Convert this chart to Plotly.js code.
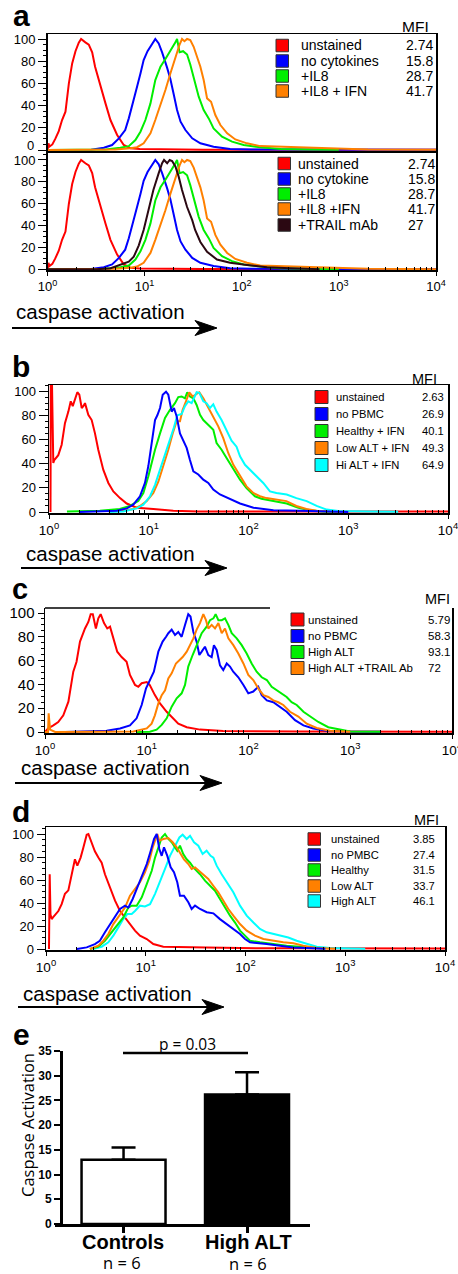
<!DOCTYPE html>
<html><head><meta charset="utf-8">
<script src="https://cdn.plot.ly/plotly-3.0.1.min.js"></script>
<style>html,body{margin:0;padding:0;background:#fff}#chart{width:458px;height:1274px}</style>
</head><body><div id="chart"></div>
<script>
// ---------- DATA (x = log10 of caspase fluorescence, y = % of max) ----------
// Panel a (same samples in top and bottom plots)
const aUnstX = [0,0.01,0.02,0.05,0.08,0.116,0.15,0.185,0.22,0.254,0.288,0.322,0.346,0.37,0.39,0.425,0.46,0.49,0.545,0.597,0.648,0.717,0.785,0.854,0.95,1.2,1.6,2.2,3.0,4.0];
const aUnstY = [0,6,3,5,10,17,27,34.5,60,78,89,96.7,100,98,97,95,88,75,57,42,27,13.5,4.5,1.5,0.8,0.5,0.3,0.3,0.2,0.2];
const aNoCytX = [0,0.45,0.58,0.665,0.735,0.80,0.837,0.871,0.922,0.957,0.99,1.03,1.077,1.11,1.145,1.18,1.232,1.265,1.30,1.334,1.37,1.42,1.49,1.574,1.71,1.88,2.1,2.5,3.0,4.0];
const aNoCytY = [0,0.3,2,4.5,10.5,18,28.5,39,57,69,81,89,95,100,96,88,74,64,50,36,25.5,18,10.5,6,3,1,0.5,0.3,0.2,0.2];
const aIL8X = [0,0.6,0.75,0.837,0.905,0.957,1.008,1.06,1.11,1.163,1.214,1.265,1.317,1.334,1.36,1.396,1.437,1.47,1.51,1.557,1.608,1.66,1.71,1.797,1.9,2.02,2.19,2.4,2.7,3.0];
const aIL8Y = [0,0.5,2,3.5,9,16.5,27,42,63,75,82,89,97,100,88,89,86,77,63,48,36,28.5,19.5,12,7.5,4.5,2.5,1,0.5,0.2];
const aIL8IFNX = [0,0.7,0.854,0.922,0.99,1.06,1.11,1.163,1.214,1.265,1.317,1.36,1.385,1.41,1.437,1.47,1.505,1.54,1.574,1.608,1.643,1.684,1.728,1.78,1.85,1.934,2.054,2.19,2.4,2.6,3.0,3.3,4.0];
const aIL8IFNY = [0,0.5,1.5,2.5,6,15,27,40.5,54,69,84,95,100,98,100,99,93,84,75,63,46.5,43.5,31.5,22.5,15,9.5,6,3.5,3,2.5,1.5,0.5,0.2];
const aTrailX = [0,0.5,0.65,0.75,0.837,0.888,0.94,0.99,1.04,1.09,1.145,1.18,1.2,1.232,1.258,1.283,1.317,1.35,1.385,1.437,1.49,1.52,1.574,1.643,1.745,1.88,2.054,2.26,2.5,2.8];
const aTrailY = [0,0,1,4,7,11.5,22,36,54,72.5,88,97,100,97,100,99,94,85,72.5,57,45,36,25,16,9,6,4,2,1,0.2];
const aTopNames = ['unstained','no cytokines','+IL8','+IL8 + IFN'];
const aTopMFI = ['2.74','15.8','28.7','41.7'];
const aBotNames = ['unstained','no cytokine','+IL8','+IL8 +IFN','+TRAIL mAb'];
const aBotMFI = ['2.74','15.8','28.7','41.7','27'];

// Panel b
const bUnstX = [0.015,0.018,0.03,0.043,0.053,0.093,0.127,0.16,0.194,0.218,0.238,0.26,0.284,0.304,0.328,0.344,0.361,0.394,0.428,0.461,0.494,0.544,0.595,0.645,0.712,0.779,0.879,1.046,1.246,1.5,2.5,4.0];
const bUnstY = [0,106,106,40.5,43,47,55.6,73.5,83,91.5,87.5,94,99,97,86,87.5,90,80.4,76,65,51.5,35,24,17,11.5,7,3.5,2.5,1,0.5,0.4,0.4];
const bNoPBMCX = [0.3,0.44,0.68,0.78,0.845,0.912,0.962,0.996,1.03,1.063,1.086,1.113,1.14,1.173,1.196,1.23,1.253,1.28,1.313,1.346,1.38,1.413,1.447,1.497,1.547,1.597,1.647,1.714,1.797,1.915,2.05,2.25,2.52,3.0];
const bNoPBMCY = [0,0.5,1,3,6,13,24,38,57,76,80,86,97,99.5,97,83,86,79,65,59,53,43,33.6,31,26.7,24,18.5,14.5,11.5,7,3.5,1.5,1,0];
const bHealthyX = [0.18,0.51,0.71,0.81,0.895,0.946,0.996,1.03,1.063,1.113,1.163,1.213,1.263,1.296,1.33,1.363,1.386,1.413,1.447,1.48,1.514,1.547,1.597,1.647,1.68,1.73,1.78,1.848,1.915,1.98,2.065,2.13,2.25,2.383,2.5,2.616,2.75,2.9];
const bHealthyY = [0.5,1,2.5,5,9,15.7,29.5,42,51.5,65,77.7,84.5,90,95,95.5,94,99,95.5,94,88.5,80.4,76,72,68,57,51.5,44.6,35,26.7,19.8,13,11,9,7,3.5,1.5,0.5,0];
const bLowX = [0.6,0.745,0.845,0.912,0.98,1.046,1.096,1.146,1.196,1.24,1.28,1.313,1.34,1.38,1.406,1.44,1.474,1.507,1.547,1.597,1.647,1.697,1.747,1.797,1.848,1.915,1.98,2.048,2.115,2.18,2.28,2.38,2.48,2.58,2.68,2.9];
const bLowY = [0,1,2.5,5,9,15.7,25,38,51.5,65,75,75,84.5,93,99,95.5,97,99,94,86,79,70.8,61,48.8,39,29.5,21.2,15.7,13,11.5,10,9,5,2.5,1,0.3];
const bHiX = [0.6,0.745,0.879,0.946,1.013,1.063,1.113,1.163,1.213,1.253,1.286,1.33,1.363,1.396,1.43,1.48,1.507,1.547,1.58,1.614,1.647,1.68,1.73,1.78,1.83,1.88,1.915,1.965,2.015,2.08,2.148,2.215,2.28,2.383,2.48,2.583,2.683,2.784,2.9,3.2,3.5];
const bHiY = [0,0.5,3,6,13,22.5,35,47,59,70,80,81,87.5,91.5,90,99,98.5,91.5,90,86,89,83,76,68,59,54,46,39,35,29.5,24,17,15.7,14.5,11.5,9,5,2,0.8,0.4,0.2];
const bNames = ['unstained','no PBMC','Healthy + IFN','Low ALT + IFN','Hi ALT + IFN'];
const bMFI = ['2.63','26.9','40.1','49.3','64.9'];

// Panel c
const cUnstX = [0,0.03,0.082,0.13,0.18,0.23,0.278,0.31,0.344,0.393,0.426,0.449,0.47,0.5,0.524,0.547,0.58,0.612,0.639,0.672,0.71,0.753,0.802,0.835,0.885,0.917,0.95,1.0,1.03,1.08,1.13,1.196,1.26,1.31,1.393,1.523,1.75,2.5,4.0];
const cUnstY = [0,3,5.6,8.4,14,25.5,50.7,59,76,87,92.5,99,99,87,95.5,99,91.5,87,88.5,78.7,67.5,63,59,48,39.5,38,41,42,39.5,31,24,17,11,7,4,2,0.8,0.4,0.3];
const cNoPBMCX = [0.2,0.41,0.606,0.737,0.835,0.9,0.95,0.993,1.032,1.07,1.114,1.156,1.19,1.212,1.245,1.278,1.31,1.343,1.376,1.408,1.43,1.458,1.49,1.517,1.54,1.572,1.605,1.638,1.66,1.687,1.72,1.752,1.786,1.818,1.85,1.9,1.95,1.998,2.047,2.096,2.13,2.18,2.244,2.31,2.375,2.457,2.54,2.637,2.768,3.0,3.3];
const cNoPBMCY = [0,0.3,1,3,5.6,11.5,22.7,36.7,43.7,50.7,67.5,76,80,83,86,81.5,84,80,90,99,97,84,76,64.7,67.5,71.7,64.7,63,73,69,56,52,57.6,55,50.7,46,39.5,32.5,34,38,31,26.6,25,21.3,17,10,5.6,3,1,0.4,0.2];
const cHighX = [0.9,1.03,1.097,1.147,1.196,1.245,1.294,1.343,1.376,1.408,1.451,1.49,1.54,1.589,1.622,1.655,1.677,1.704,1.737,1.769,1.802,1.835,1.884,1.933,1.982,2.031,2.08,2.13,2.18,2.228,2.277,2.326,2.375,2.424,2.474,2.54,2.604,2.686,2.784,2.9,3.0,3.3];
const cHighY = [0,0.3,2,6,11.5,21.3,28.3,32.5,39.5,55,64.7,73,83,88.5,94,95.5,99,94,94,95.5,90,83,78.7,73,66,57.6,50.7,46,43.7,38,35,32.5,29.4,25,22.7,17,13,8.4,4,2,0.5,0.2];
const cTrailX = [0,0.03,0.036,0.05,0.1,0.868,1.0,1.048,1.08,1.114,1.147,1.18,1.212,1.245,1.287,1.32,1.353,1.393,1.425,1.458,1.49,1.523,1.556,1.582,1.605,1.638,1.671,1.704,1.737,1.769,1.802,1.851,1.9,1.95,1.998,2.047,2.096,2.146,2.195,2.244,2.293,2.342,2.408,2.49,2.572,2.67,2.8,3.0];
const cTrailY = [0,0,15.7,2,0,0.5,3,7,14,24,31,35,45,49.3,57.6,60.5,63,67.5,73,78.7,86,91.5,99,94,87,90,87,91.5,83,87,78.7,73,66,57.6,48,43.7,36.7,31,29.4,26.6,25,22.7,17,13,7,3.4,1,0.3];
const cNames = ['unstained','no PBMC','High ALT','High ALT +TRAIL Ab'];
const cMFI = ['5.79','58.3','93.1','72'];

// Panel d
const dUnstX = [0.03,0.037,0.045,0.057,0.07,0.124,0.157,0.19,0.224,0.257,0.29,0.314,0.347,0.374,0.408,0.425,0.458,0.49,0.525,0.558,0.591,0.642,0.692,0.742,0.792,0.842,0.892,0.942,1.01,1.076,1.176,1.61,1.945,2.6,4.0];
const dUnstY = [0,65,30,26,27.5,33,39,48,51,64,78,72.5,79.5,88,99.4,100,92.5,85,79.5,75,65,53.6,42,33,27.5,21.7,16,11.6,8.7,4.3,2,1.4,0.8,0.6,0.4];
const dNoX = [0.31,0.408,0.49,0.54,0.591,0.642,0.692,0.742,0.792,0.825,0.869,0.909,0.96,1.01,1.05,1.083,1.11,1.136,1.16,1.183,1.216,1.25,1.283,1.316,1.343,1.383,1.427,1.46,1.494,1.544,1.611,1.678,1.744,1.811,1.878,1.945,1.995,2.045,2.212,2.346,2.479,2.8];
const dNoY = [0,1.4,4.3,7.2,14.5,21.7,29,34.8,37.7,36,43.5,52,62,73.9,85.5,95.7,100,87,81,88.4,81,71,66.7,58,46.4,46.4,40.6,34.8,37.7,34.8,32,31,26,21.7,17.4,13,8.7,5.8,4.3,2.9,1.4,0.3];
const dHealthyX = [0.44,0.525,0.591,0.658,0.725,0.775,0.825,0.859,0.909,0.96,1.01,1.06,1.093,1.126,1.16,1.193,1.226,1.26,1.293,1.316,1.343,1.376,1.41,1.444,1.477,1.51,1.544,1.594,1.644,1.694,1.744,1.795,1.845,1.895,1.945,1.995,2.045,2.145,2.279,2.412,2.546,2.8];
const dHealthyY = [0,2,7.2,14.5,21.7,27.5,36,37.7,37.7,45,56.5,68,79.5,88.4,97,100,95.7,92.8,88.4,85.5,89.8,82.6,78,75,71,68,65,59.4,55,50.7,43.5,36,29,23,16,11.6,7.2,5.8,4.3,2.9,2,0.5];
const dLowX = [0.44,0.525,0.575,0.625,0.675,0.725,0.792,0.842,0.892,0.942,0.992,1.036,1.07,1.093,1.116,1.136,1.176,1.226,1.27,1.31,1.343,1.383,1.427,1.46,1.494,1.537,1.577,1.627,1.677,1.727,1.778,1.828,1.878,1.945,2.012,2.095,2.179,2.279,2.379,2.48,2.58,2.714,2.9];
const dLowY = [0,2.9,7.2,13,21.7,27.5,36,46.4,52,58,66.7,76.8,88.4,94.2,100,94.2,95.7,96.5,92.8,88.4,84,78,73.9,69.6,71,68,65,60.9,55,49.3,42,34.8,29,21.7,16,11.6,8.7,7.2,5.8,5,2.9,0.9,0.3];
const dHighX = [0.47,0.558,0.625,0.675,0.725,0.775,0.815,0.859,0.892,0.942,0.992,1.043,1.093,1.143,1.193,1.243,1.293,1.337,1.37,1.41,1.444,1.484,1.527,1.57,1.61,1.65,1.678,1.711,1.761,1.811,1.878,1.945,2.012,2.079,2.145,2.212,2.279,2.346,2.429,2.513,2.613,2.714,2.847,3.2];
const dHighY = [0,2,5.8,11.6,18.8,26,30.4,30.4,33,37.7,37,39,48,58,69.6,81,89.8,97,99.4,95.7,98.5,92.8,89.8,82.6,85.5,81,79.5,72.5,65,58,49.3,37.7,29,23,17.4,14.5,13,11.6,10,7.2,4.3,2,0.9,0.3];
const dNames = ['unstained','no PMBC','Healthy','Low ALT','High ALT'];
const dMFI = ['3.85','27.4','31.5','33.7','46.1'];

// Panel e
const eGroups = ['Controls','High ALT'];
const eMeans = [13, 26.2];
const eSEM = [2.5, 4.5];
const eN = ['n = 6','n = 6'];
const eP = 'p = 0.03';

const decadeTicks = [0,1,2,3,4];
const decadeText = ['10<sup>0</sup>','10<sup>1</sup>','10<sup>2</sup>','10<sup>3</sup>','10<sup>4</sup>'];

// ---------- LAYOUT HELPERS ----------
const W = 458, H = 1274;
const fx = p => p / W, fy = p => 1 - p / H;
const FONT = 'Liberation Sans, Arial, Helvetica, sans-serif';
const OFONT = 'Open Sans, Liberation Sans, Arial, sans-serif';
const COL = {red:'#ff0000', blue:'#0000ff', green:'#00ee00', orange:'#ff8000', cyan:'#00ffff', dark:'#2b0812'};
const minorVals = [];
for (let d = 0; d < 4; d++) for (let k = 2; k < 10; k++) minorVals.push(d + Math.log10(k));

function xAxis(l, r, anchor, opts) {
  return Object.assign({domain:[fx(l), fx(r)], range:[0,4], anchor:anchor, showline:true, linecolor:'#000', linewidth:1.5,
    mirror:true, showgrid:false, zeroline:false, tickmode:'array', tickvals:decadeTicks, ticktext:decadeText,
    ticks:'outside', ticklen:4, tickwidth:1, tickcolor:'#000', tickfont:{family:FONT, size:13, color:'#000'},
    minor:{tickmode:'array', tickvals:minorVals, ticks:'inside', ticklen:3, tickwidth:1, tickcolor:'#000'},
    ticklabeloverflow:'allow', fixedrange:true}, opts || {});
}
function yAxis(t, b, range, anchor, opts) {
  return Object.assign({domain:[fy(b), fy(t)], range:range, anchor:anchor, showline:true, linecolor:'#000', linewidth:1.5,
    mirror:true, showgrid:false, zeroline:false, tickmode:'linear', tick0:0, dtick:20,
    ticks:'outside', ticklen:8, tickwidth:1, tickcolor:'#000', tickfont:{family:FONT, size:13, color:'#000'},
    minor:{tick0:0, dtick:5, ticks:'outside', ticklen:3, tickwidth:1, tickcolor:'#000'},
    fixedrange:true}, opts || {});
}
function curve(x, y, color, xa, ya) {
  return {type:'scatter', mode:'lines', x:x, y:y, xaxis:xa, yaxis:ya, line:{color:color, width:2}, hoverinfo:'skip', showlegend:false};
}

const traces = [
  curve(aUnstX, aUnstY, COL.red, 'x', 'y'),
  curve(aNoCytX, aNoCytY, COL.blue, 'x', 'y'),
  curve(aIL8X, aIL8Y, COL.green, 'x', 'y'),
  curve(aIL8IFNX, aIL8IFNY, COL.orange, 'x', 'y'),
  curve(aUnstX, aUnstY, COL.red, 'x2', 'y2'),
  curve(aNoCytX, aNoCytY, COL.blue, 'x2', 'y2'),
  curve(aIL8X, aIL8Y, COL.green, 'x2', 'y2'),
  curve(aIL8IFNX, aIL8IFNY, COL.orange, 'x2', 'y2'),
  curve(aTrailX, aTrailY, COL.dark, 'x2', 'y2'),
  curve(bUnstX, bUnstY, COL.red, 'x3', 'y3'),
  curve(bHealthyX, bHealthyY, COL.green, 'x3', 'y3'),
  curve(bLowX, bLowY, COL.orange, 'x3', 'y3'),
  curve(bHiX, bHiY, COL.cyan, 'x3', 'y3'),
  curve(bNoPBMCX, bNoPBMCY, COL.blue, 'x3', 'y3'),
  curve(cUnstX, cUnstY, COL.red, 'x4', 'y4'),
  curve(cNoPBMCX, cNoPBMCY, COL.blue, 'x4', 'y4'),
  curve(cHighX, cHighY, COL.green, 'x4', 'y4'),
  curve(cTrailX, cTrailY, COL.orange, 'x4', 'y4'),
  curve(dUnstX, dUnstY, COL.red, 'x5', 'y5'),
  curve(dHighX, dHighY, COL.cyan, 'x5', 'y5'),
  curve(dHealthyX, dHealthyY, COL.green, 'x5', 'y5'),
  curve(dLowX, dLowY, COL.orange, 'x5', 'y5'),
  curve(dNoX, dNoY, COL.blue, 'x5', 'y5'),
  {type:'bar', x:[0,1], y:eMeans, xaxis:'x6', yaxis:'y6', width:0.68,
   marker:{color:['#ffffff','#000000'], line:{color:'#000', width:2.5}},
   error_y:{type:'data', array:eSEM, arrayminus:[0,0], symmetric:false, color:'#000', thickness:2.5, width:12},
   hoverinfo:'skip', showlegend:false}
];

const shapes = [];
const annotations = [];
function txt(x, y, text, size, opts) {
  annotations.push(Object.assign({xref:'paper', yref:'paper', x:fx(x), y:fy(y), text:text, showarrow:false,
    xanchor:'left', yanchor:'middle', font:{family:FONT, size:size, color:'#000'}}, opts || {}));
}
function legend(names, mfi, colors, sqL, sqSize, rows, textX, valX, size) {
  names.forEach((n, i) => {
    shapes.push({type:'rect', xref:'paper', yref:'paper', x0:fx(sqL), x1:fx(sqL + sqSize),
      y0:fy(rows[i] + sqSize / 2), y1:fy(rows[i] - sqSize / 2), fillcolor:colors[i], line:{color:'#333', width:1}});
    txt(textX, rows[i], n, size);
    txt(valX, rows[i], mfi[i], size);
  });
}
function arrow(x0, x1, y) {
  shapes.push({type:'line', xref:'paper', yref:'paper', x0:fx(x0), x1:fx(x1 - 12), y0:fy(y), y1:fy(y), line:{color:'#000', width:2}});
  shapes.push({type:'path', xref:'paper', yref:'paper', fillcolor:'#000', line:{color:'#000', width:1},
    path:'M' + fx(x1) + ',' + fy(y) + ' L' + fx(x1 - 22) + ',' + fy(y - 7.5) + ' L' + fx(x1 - 16) + ',' + fy(y) + ' L' + fx(x1 - 22) + ',' + fy(y + 7.5) + ' Z'});
}

// Panel labels
txt(11, 15, '<b>a</b>', 30);
txt(10, 366, '<b>b</b>', 30);
txt(10, 589, '<b>c</b>', 29);
txt(10, 811, '<b>d</b>', 30);
txt(11, 1034, '<b>e</b>', 30);

// "0" of the upper plot in panel a (raised, as in the reference)
txt(36, 145, '0', 13, {xanchor:'right'});

// MFI headers
txt(415, 26, 'MFI', 15.5, {xanchor:'center'});
txt(424.5, 379, 'MFI', 14.5, {xanchor:'center'});
txt(437.5, 599, 'MFI', 14.5, {xanchor:'center'});
txt(426.5, 820, 'MFI', 14.5, {xanchor:'center'});

// legends
legend(aTopNames, aTopMFI, [COL.red, COL.blue, COL.green, COL.orange], 276, 12.5, [45.5, 61, 76, 91], 299, 404, 14);
legend(aBotNames, aBotMFI, [COL.red, COL.blue, COL.green, COL.orange, COL.dark], 278, 12.5, [163.5, 179, 194, 209, 225], 296, 406, 14);
legend(bNames, bMFI, [COL.red, COL.blue, COL.green, COL.orange, COL.cyan], 315, 13, [397, 414, 431, 448, 465], 334, 420, 11.2);
legend(cNames, cMFI, [COL.red, COL.blue, COL.green, COL.orange], 291, 13, [619.5, 636, 652, 668], 306, 426, 11.5);
legend(dNames, dMFI, [COL.red, COL.blue, COL.green, COL.orange, COL.cyan], 308, 12.5, [839, 855, 870, 886, 901], 329, 411, 11.2);

// axis captions + arrows
txt(14, 311, 'caspase activation', 20.5);
arrow(12, 217, 328);
txt(24, 553, 'caspase activation', 20.5);
arrow(21, 227, 568);
txt(19, 768, 'caspase activation', 20.5);
arrow(15, 222, 783);
txt(21, 993, 'caspase activation', 20.5);
arrow(18, 224, 1007);

// panel c partial top border
shapes.push({type:'line', xref:'paper', yref:'paper', x0:fx(45), x1:fx(270), y0:fy(608), y1:fy(608), line:{color:'#000', width:1.5}});

// panel e decorations
shapes.push({type:'line', xref:'paper', yref:'paper', x0:fx(123), x1:fx(248), y0:fy(1053), y1:fy(1053), line:{color:'#000', width:2.5}});
txt(187, 1044, eP, 15.5, {xanchor:'center', font:{family:OFONT, size:15.5, color:'#000'}});
txt(27, 1125, 'Caspase Activation', 16.5, {xanchor:'center', textangle:-90, font:{family:OFONT, size:16.5, color:'#000'}});
txt(123, 1242, '<b>' + eGroups[0] + '</b>', 20, {xanchor:'center'});
txt(248, 1242, '<b>' + eGroups[1] + '</b>', 20, {xanchor:'center'});
txt(122, 1262, eN[0], 16.5, {xanchor:'center', font:{family:OFONT, size:16.5, color:'#000'}});
txt(248, 1263, eN[1], 16.5, {xanchor:'center', font:{family:OFONT, size:16.5, color:'#000'}});

const layout = {
  width: W, height: H, margin:{l:0, r:0, t:0, b:0}, paper_bgcolor:'#fff', plot_bgcolor:'rgba(0,0,0,0)',
  showlegend:false, font:{family:FONT, color:'#000'},
  xaxis: xAxis(47.5, 436, 'y', {showticklabels:false, ticks:'', minor:{ticks:''}}),
  yaxis: yAxis(34, 151, [-0.9, 104.5], 'x', {tickmode:'array', tickvals:[0,20,40,60,80,100], ticktext:['','20','40','60','80','100']}),
  xaxis2: xAxis(47.5, 436, 'y2'),
  yaxis2: yAxis(152, 270, [-0.6, 107.3], 'x2'),
  xaxis3: xAxis(49, 448, 'y3', {tickfont:{family:FONT, size:13.5, color:'#000'}}),
  yaxis3: yAxis(385, 513, [-0.83, 105], 'x3', {ticklen:9}),
  xaxis4: xAxis(45, 452, 'y4', {mirror:false, tickfont:{family:FONT, size:13.5, color:'#000'}}),
  yaxis4: yAxis(608, 733, [-0.84, 104.2], 'x4', {ticklen:6, tickfont:{family:FONT, size:15, color:'#000'}}),
  xaxis5: xAxis(46, 445, 'y5', {tickfont:{family:FONT, size:13.5, color:'#000'}}),
  yaxis5: yAxis(827, 950, [-0.87, 106.1], 'x5'),
  xaxis6: {domain:[fx(55), fx(310)], range:[-0.555, 1.51], anchor:'y6', showline:true, linecolor:'#000', linewidth:2.5,
    showgrid:false, zeroline:false, tickmode:'array', tickvals:[0,1], ticks:'outside', ticklen:6, tickwidth:3, tickcolor:'#000',
    showticklabels:false, fixedrange:true},
  yaxis6: {domain:[fy(1224), fy(1051)], range:[0, 35], anchor:'free', position:fx(61), showline:true, linecolor:'#000', linewidth:2.5,
    showgrid:false, zeroline:false, tickmode:'linear', tick0:0, dtick:5, ticks:'outside', ticklen:6, tickwidth:2, tickcolor:'#000',
    tickfont:{family:FONT, size:12, color:'#000', weight:700}, fixedrange:true},
  shapes: shapes,
  annotations: annotations
};

Plotly.newPlot('chart', traces, layout, {displayModeBar:false, staticPlot:true});
</script>
</body></html>
